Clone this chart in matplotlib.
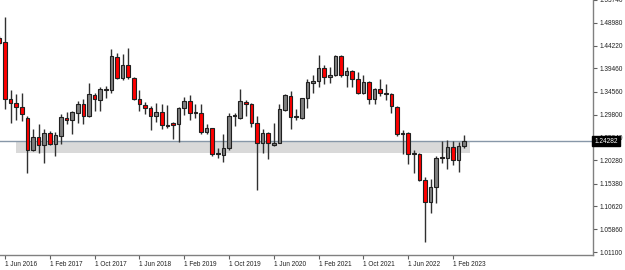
import numpy as np
import pandas as pd
import matplotlib
matplotlib.use('Agg')
import matplotlib.pyplot as plt
import matplotlib.transforms as mtransforms

# monthly candles, May 2016 .. Apr 2023
months = pd.date_range('2016-05-01', periods=84, freq='MS')
opens = [1.4581, 1.4498, 1.3304, 1.3215, 1.3132, 1.2904, 1.2242, 1.2511, 1.2345, 1.2594,
         1.2366, 1.2532, 1.2904, 1.2863, 1.3008, 1.3194, 1.2946, 1.3380, 1.3277, 1.3525,
         1.3504, 1.4188, 1.3753, 1.4022, 1.3753, 1.3297, 1.3173, 1.3111, 1.2946, 1.3028,
         1.2759, 1.2801, 1.2780, 1.3111, 1.3256, 1.3028, 1.3008, 1.2614, 1.2697, 1.2159,
         1.2138, 1.2283, 1.2946, 1.2904, 1.3235, 1.3194, 1.2801, 1.2387, 1.2594, 1.2345,
         1.2387, 1.3070, 1.3360, 1.2925, 1.2904, 1.3318, 1.3649, 1.3691, 1.3960, 1.3774,
         1.3815, 1.4208, 1.3815, 1.3898, 1.3732, 1.3442, 1.3670, 1.3297, 1.3525, 1.3422,
         1.3401, 1.3132, 1.2573, 1.2594, 1.2159, 1.2159, 1.1621, 1.1165, 1.1476, 1.2097,
         1.2076, 1.2304, 1.2035, 1.2325]
highs = [1.4620, 1.5016, 1.3484, 1.3401, 1.3442, 1.2946, 1.2677, 1.2780, 1.2677, 1.2635,
         1.2620, 1.2987, 1.3028, 1.3049, 1.3256, 1.3297, 1.3650, 1.3422, 1.3567, 1.3587,
         1.4353, 1.4270, 1.4250, 1.4374, 1.3774, 1.3484, 1.3235, 1.3153, 1.3215, 1.3194,
         1.3173, 1.2830, 1.3140, 1.3339, 1.3380, 1.3194, 1.3194, 1.2780, 1.2710, 1.2283,
         1.2573, 1.3008, 1.3008, 1.3525, 1.3277, 1.3215, 1.2946, 1.2677, 1.2614, 1.2801,
         1.3194, 1.3401, 1.3463, 1.3090, 1.3330, 1.3732, 1.3815, 1.4229, 1.4022, 1.3981,
         1.4229, 1.4229, 1.3981, 1.3918, 1.3877, 1.3815, 1.3691, 1.3530, 1.3732, 1.3629,
         1.3422, 1.3153, 1.2656, 1.2614, 1.2242, 1.2180, 1.1683, 1.1642, 1.2118, 1.2428,
         1.2449, 1.2428, 1.2407, 1.2552]
lows = [1.4440, 1.3090, 1.2801, 1.2863, 1.2842, 1.1766, 1.2221, 1.2180, 1.1973, 1.2345,
        1.2118, 1.2366, 1.2780, 1.2573, 1.2801, 1.2780, 1.2925, 1.3049, 1.3049, 1.3318,
        1.3442, 1.3732, 1.3711, 1.3732, 1.3277, 1.3049, 1.2987, 1.2656, 1.2821, 1.2677,
        1.2697, 1.2469, 1.2407, 1.2966, 1.2863, 1.2904, 1.2573, 1.2573, 1.2118, 1.2076,
        1.1993, 1.2242, 1.2739, 1.2890, 1.2946, 1.2718, 1.1414, 1.2180, 1.2055, 1.2330,
        1.2380, 1.3049, 1.2677, 1.2863, 1.2884, 1.3111, 1.3422, 1.3567, 1.3629, 1.3649,
        1.3794, 1.3774, 1.3567, 1.3567, 1.3401, 1.3401, 1.3194, 1.3194, 1.3360, 1.3277,
        1.3008, 1.2532, 1.2159, 1.1952, 1.1766, 1.1600, 1.0317, 1.0917, 1.1144, 1.1973,
        1.1848, 1.1931, 1.1786, 1.2283]
closes = [1.4477, 1.3308, 1.3215, 1.3132, 1.2987, 1.2242, 1.2511, 1.2345, 1.2594, 1.2366,
          1.2552, 1.2925, 1.2863, 1.3028, 1.3194, 1.2946, 1.3401, 1.3297, 1.3525, 1.3504,
          1.4208, 1.3753, 1.4022, 1.3774, 1.3297, 1.3194, 1.3111, 1.2946, 1.3028, 1.2759,
          1.2739, 1.2759, 1.3111, 1.3256, 1.3008, 1.3008, 1.2614, 1.2697, 1.2159, 1.2180,
          1.2283, 1.2946, 1.2966, 1.3256, 1.3194, 1.2801, 1.2387, 1.2594, 1.2387, 1.2387,
          1.3090, 1.3380, 1.2925, 1.2946, 1.3318, 1.3670, 1.3691, 1.3960, 1.3774, 1.3815,
          1.4208, 1.3815, 1.3898, 1.3732, 1.3442, 1.3670, 1.3297, 1.3525, 1.3442, 1.3401,
          1.3153, 1.2573, 1.2594, 1.2159, 1.2180, 1.1621, 1.1165, 1.1476, 1.2076, 1.2076,
          1.2304, 1.2035, 1.2325, 1.24282]

price_ticks = [1.01100, 1.05860, 1.10620, 1.15380, 1.20280, 1.25040, 1.29800,
               1.34560, 1.39460, 1.44220, 1.48980, 1.53740]
date_ticks = ['1 Jun 2016', '1 Feb 2017', '1 Oct 2017', '1 Jun 2018', '1 Feb 2019',
              '1 Oct 2019', '1 Jun 2020', '1 Feb 2021', '1 Oct 2021', '1 Jun 2022',
              '1 Feb 2023']
current = 1.24282
zone_low, zone_high = 1.2180, 1.2428

font = ['Liberation Sans', 'DejaVu Sans']
fs = 4.7

fig = plt.figure(figsize=(6.25, 2.7), dpi=100)
ax = fig.add_axes([0, 15 / 270, 593 / 625, 255 / 270])

x = np.arange(len(months))
o = np.array(opens)
c = np.array(closes)
up = c >= o

# support zone and price line
ax.fill_between([2.96, 84.0], zone_low, zone_high, color='#d9d9d9', lw=0, zorder=0)
ax.axhline(current, color='#8797a8', lw=1, zorder=1)

ax.vlines(x, lows, highs, color='#303030', lw=1, zorder=2)
body = np.maximum(np.abs(c - o), 0.0006)
ax.bar(x, body, bottom=np.minimum(o, c), width=0.62,
       color=np.where(up, '#7f7f7f', '#ff0000'), edgecolor='#202020', lw=0.8, zorder=3)

ax.set_xlim(0.107, 106.0)
ax.set_ylim(1.0048, 1.5326)

labels = [m.strftime('1 %b %Y') for m in months]
pos = [labels.index(d) for d in date_ticks]
ax.set_xticks(pos)
ax.set_xticklabels(date_ticks, ha='left', family=font, fontsize=fs, color='#202020')
ax.tick_params(axis='x', length=3, pad=1, color='#606060', width=0.8)

ax.yaxis.tick_right()
ax.set_yticks(price_ticks)
ax.set_yticklabels(['%.5f' % p for p in price_ticks], family=font, fontsize=fs, color='#202020')
ax.tick_params(axis='y', length=3, pad=1.5, color='#606060', width=0.8)

for s in ['top', 'left']:
    ax.spines[s].set_visible(False)
for s in ['right', 'bottom']:
    ax.spines[s].set_color('#808080')
    ax.spines[s].set_linewidth(1)

trans = mtransforms.blended_transform_factory(ax.transAxes, ax.transData)
ax.text(1.002, current, '%.5f' % current, transform=trans, ha='left', va='center',
        family=font, fontsize=fs, color='white', zorder=10, clip_on=False,
        bbox=dict(boxstyle='square,pad=0.3', fc='black', ec='black'))

fig.savefig('out.png', dpi=100)
